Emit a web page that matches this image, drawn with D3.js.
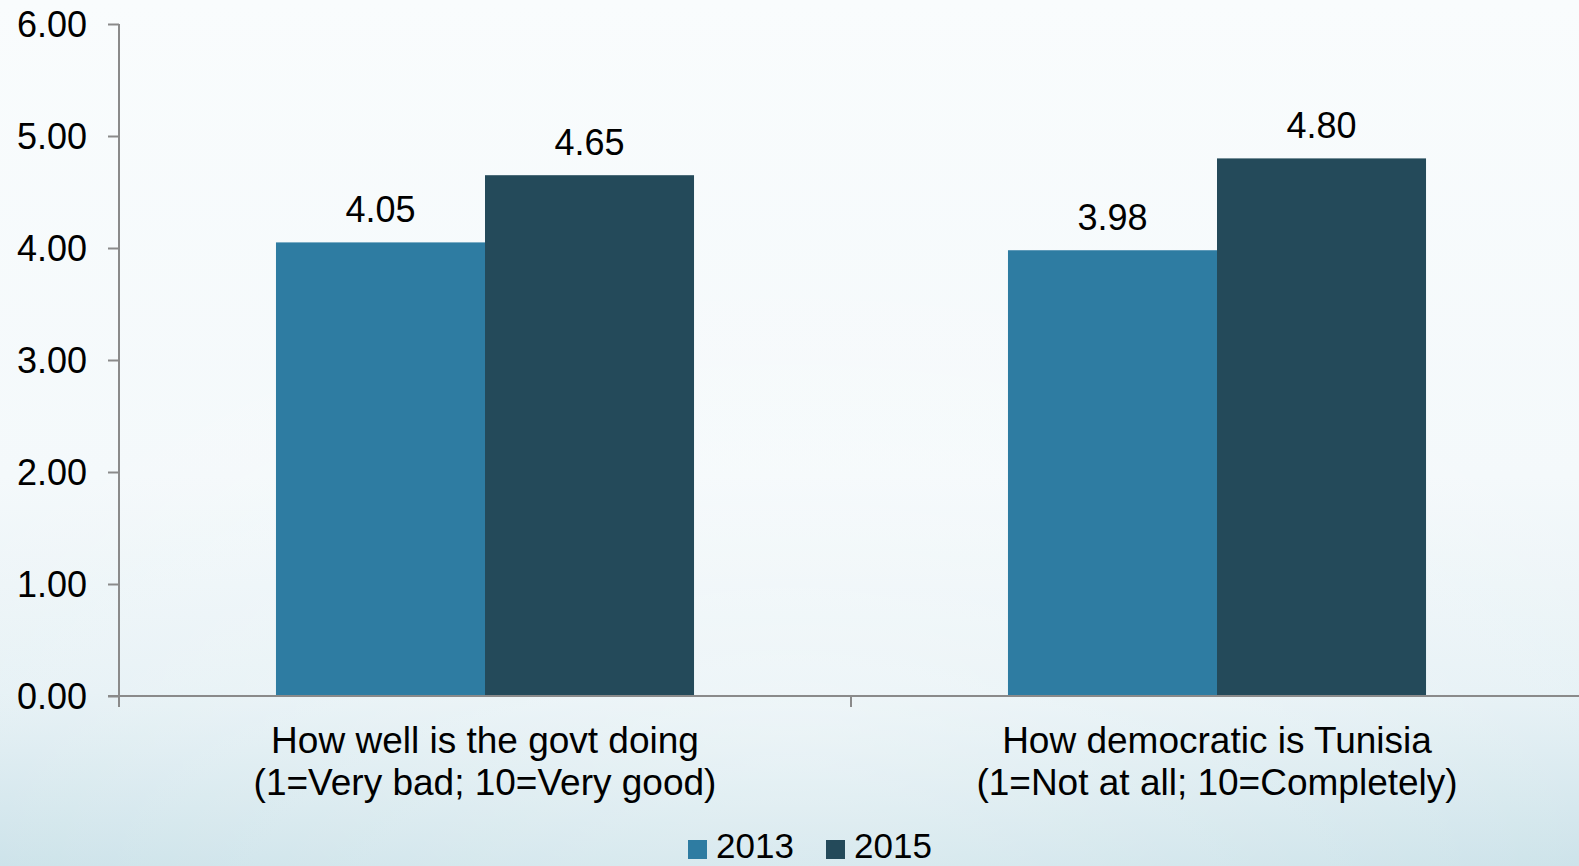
<!DOCTYPE html>
<html>
<head>
<meta charset="utf-8">
<script src="https://cdn.jsdelivr.net/npm/d3@7"></script>
<style>
  html, body { margin: 0; padding: 0; overflow: hidden; }
  svg { display: block; }
  text { font-family: "Liberation Sans", Arial, sans-serif; fill: #000; }
</style>
</head>
<body>
<script>
// Survey scores by question and year
const categories = [
  ["How well is the govt doing", "(1=Very bad; 10=Very good)"],
  ["How democratic is Tunisia", "(1=Not at all; 10=Completely)"]
];
const seriesNames = ["2013", "2015"];
const values2013 = [4.05, 3.98];
const values2015 = [4.65, 4.80];
const yTicks = [0, 1, 2, 3, 4, 5, 6];
const colors = ["#2e7ca2", "#244a5a"];

const W = 1579, H = 866;
const margin = { left: 119, right: -4, top: 24, bottom: 170 };

const svg = d3.select("body").append("svg").attr("width", W).attr("height", H);
const defs = svg.append("defs");

// Soft blue backdrop fading to white toward the top
const bg = defs.append("linearGradient").attr("id", "bg").attr("x1", 0).attr("y1", 0).attr("x2", 0).attr("y2", 1);
bg.append("stop").attr("offset", "0%").attr("stop-color", "#f9fcfd");
bg.append("stop").attr("offset", "55%").attr("stop-color", "#f4f9fb");
bg.append("stop").attr("offset", "80%").attr("stop-color", "#e6f1f5");
bg.append("stop").attr("offset", "100%").attr("stop-color", "#cbe2e9");
svg.append("rect").attr("width", W).attr("height", H).attr("fill", "url(#bg)");

const side = defs.append("radialGradient").attr("id", "glow")
  .attr("cx", 0.5).attr("cy", 0.85).attr("r", 0.6);
side.append("stop").attr("offset", "0%").attr("stop-color", "#ffffff").attr("stop-opacity", 0.35);
side.append("stop").attr("offset", "100%").attr("stop-color", "#ffffff").attr("stop-opacity", 0);
svg.append("rect").attr("width", W).attr("height", H).attr("fill", "url(#glow)");

const rows = categories.map((c, i) => ({ label: c, values: [values2013[i], values2015[i]] }));

const x0 = d3.scaleBand()
  .domain(d3.range(categories.length))
  .range([margin.left, W - margin.right])
  .paddingInner(0).paddingOuter(0);

const x1 = d3.scaleBand()
  .domain(seriesNames)
  .range([0, x0.bandwidth()])
  .paddingInner(0).paddingOuter(0.751);

const y = d3.scaleLinear().domain([0, 6]).range([H - margin.bottom, margin.top]);

// Bars
const groups = svg.append("g").selectAll("g").data(rows).join("g")
  .attr("transform", (d, i) => `translate(${x0(i)},0)`);

groups.selectAll("rect").data(d => d.values.map((v, k) => ({ v, s: seriesNames[k], k })))
  .join("rect")
  .attr("x", d => x1(d.s))
  .attr("y", d => y(d.v))
  .attr("width", x1.bandwidth())
  .attr("height", d => y(0) - y(d.v))
  .attr("fill", d => colors[d.k]);

// Value labels above bars
groups.selectAll("text.val").data(d => d.values.map((v, k) => ({ v, s: seriesNames[k] })))
  .join("text")
  .attr("class", "val")
  .attr("x", d => x1(d.s) + x1.bandwidth() / 2)
  .attr("y", d => y(d.v) - 20)
  .attr("text-anchor", "middle")
  .style("font-size", "36px")
  .text(d => d3.format(".2f")(d.v));

// Y axis
const axisColor = "#8a8a8a";
const yAxis = svg.append("g").attr("transform", `translate(${margin.left},0)`)
  .call(d3.axisLeft(y).tickValues(yTicks).tickFormat(d3.format(".2f")).tickSize(11).tickPadding(21));
yAxis.select(".domain").attr("stroke", axisColor).attr("stroke-width", 2).attr("d", `M0,${y(0)}V${y(6)}`);
yAxis.selectAll(".tick line").attr("stroke", axisColor).attr("stroke-width", 2);
yAxis.selectAll(".tick text").style("font-size", "36px").attr("fill", "#000")
  .style("font-family", "'Liberation Sans', Arial, sans-serif").attr("dy", "0.35em");

// X axis with category separators
const xAxisG = svg.append("g").attr("transform", `translate(0,${y(0)})`);
xAxisG.append("line")
  .attr("x1", margin.left - 11).attr("x2", W)
  .attr("stroke", axisColor).attr("stroke-width", 2);
const seps = d3.range(categories.length + 1).map(i => i < categories.length ? x0(i) : x0(i - 1) + x0.bandwidth());
xAxisG.selectAll("line.sep").data(seps).join("line")
  .attr("class", "sep")
  .attr("x1", d => d).attr("x2", d => d)
  .attr("y1", 0).attr("y2", 11)
  .attr("stroke", axisColor).attr("stroke-width", 2);

// Category labels (two lines each)
const catText = svg.append("g").selectAll("text").data(rows).join("text")
  .attr("text-anchor", "middle")
  .style("font-size", "37px")
  .attr("transform", (d, i) => `translate(${x0(i) + x0.bandwidth() / 2},0)`);
catText.selectAll("tspan").data(d => d.label).join("tspan")
  .attr("x", 0)
  .attr("y", (d, j) => 752.5 + j * 42.5)
  .text(d => d);

// Legend
const legend = svg.append("g");
const legendItems = [
  { name: seriesNames[0], color: colors[0], x: 688 },
  { name: seriesNames[1], color: colors[1], x: 826 }
];
legend.selectAll("rect").data(legendItems).join("rect")
  .attr("x", d => d.x).attr("y", 840).attr("width", 19).attr("height", 19)
  .attr("fill", d => d.color);
legend.selectAll("text").data(legendItems).join("text")
  .attr("x", d => d.x + 28).attr("y", 858)
  .style("font-size", "35px")
  .text(d => d.name);
</script>
</body>
</html>
